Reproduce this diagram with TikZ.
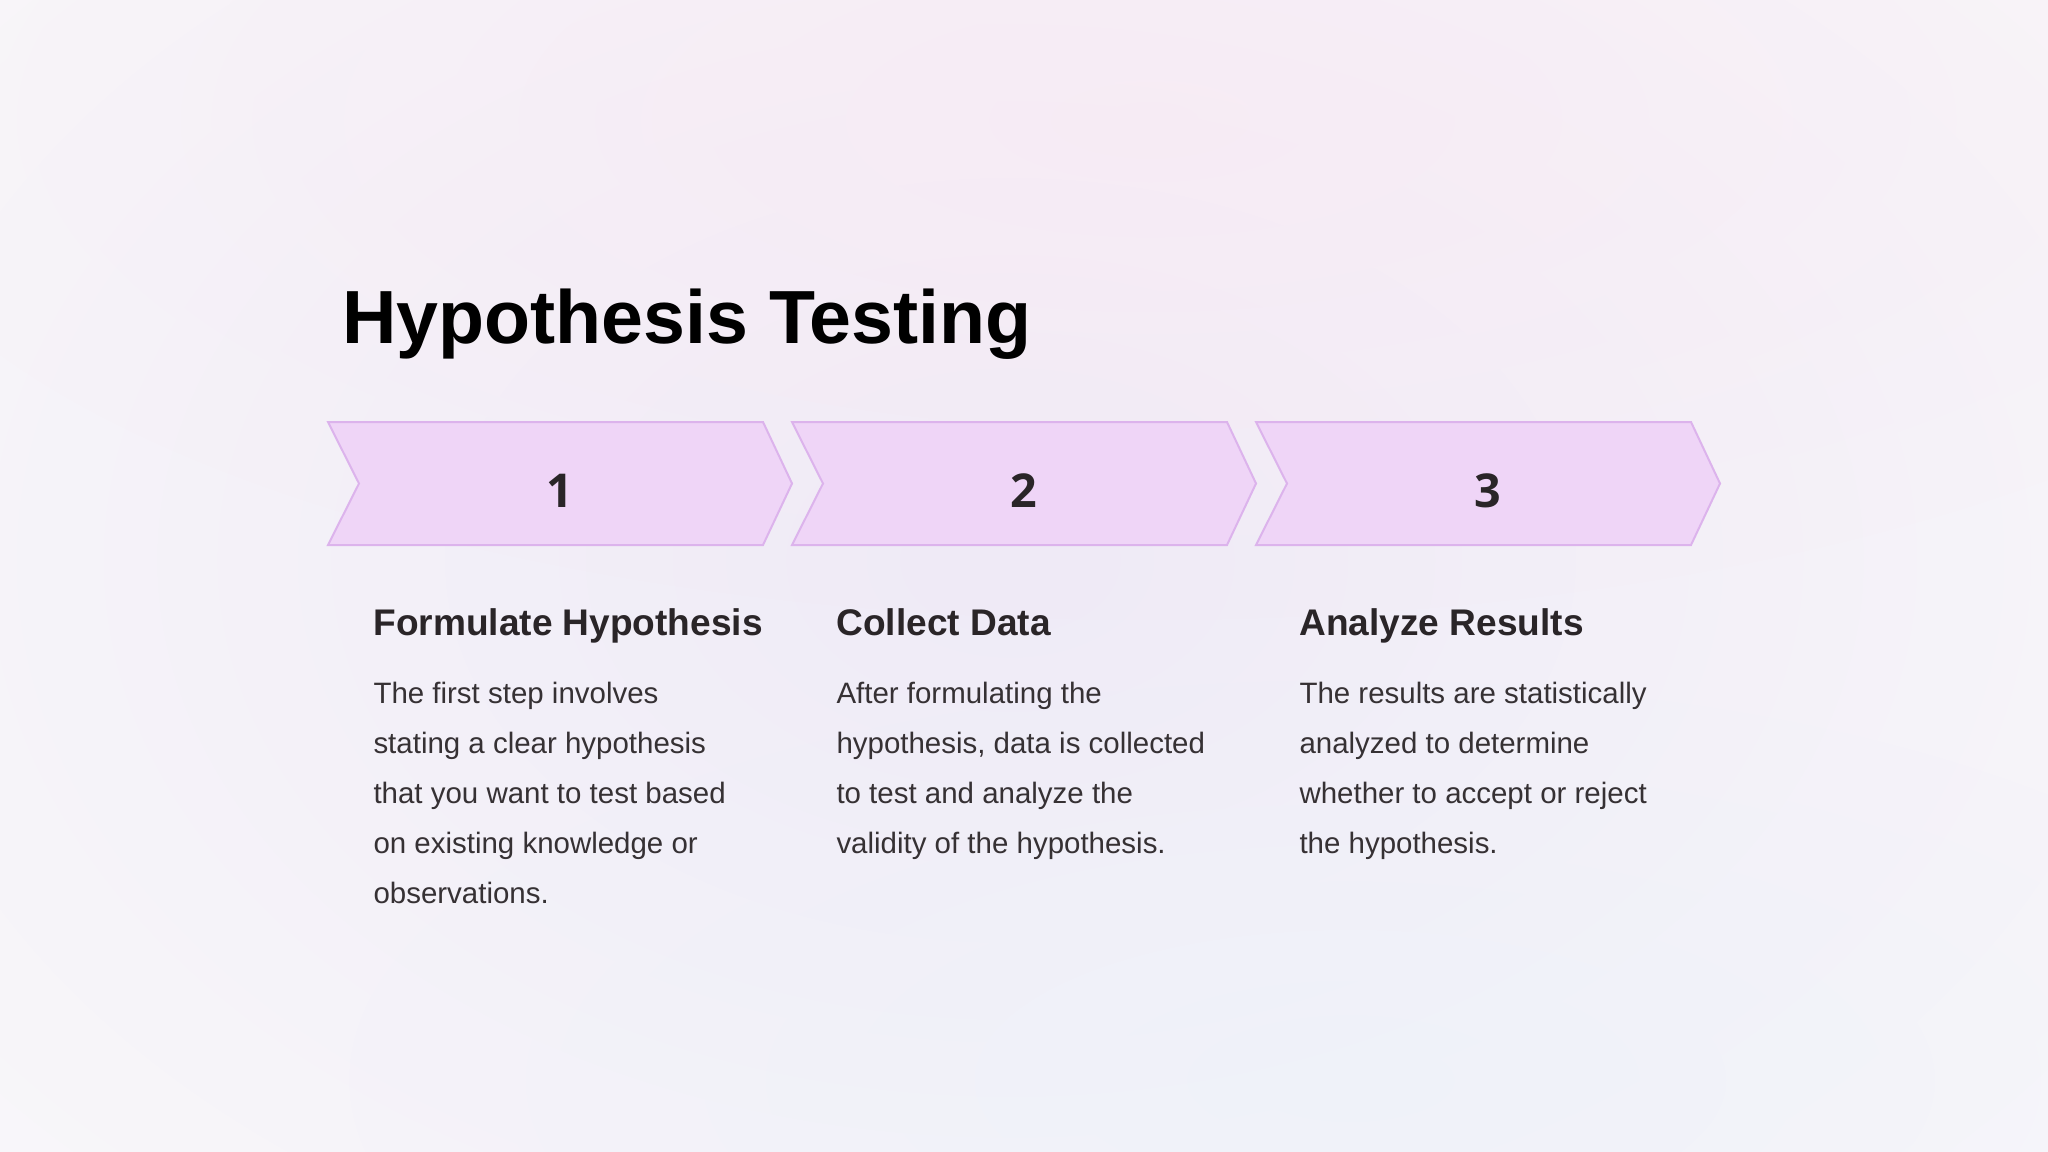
\documentclass[tikz,border=0pt]{standalone}
\usepackage{fontspec}
\setmainfont{Liberation Sans}
\newfontfamily\numfont{Open Sans}
\usetikzlibrary{positioning,fadings}

\definecolor{bgwhite}{HTML}{FBFAFB}
\definecolor{glowlav}{HTML}{EFEBF7}
\definecolor{glowpink}{HTML}{F9E9F3}
\definecolor{glowblue}{HTML}{EEF2FA}
\definecolor{chevfill}{HTML}{EFD5F7}
\definecolor{chevline}{HTML}{DCB3EC}
\definecolor{headtext}{HTML}{2A2528}
\definecolor{bodytext}{HTML}{363134}

\tikzfading[name=softglow, inner color=transparent!0, outer color=transparent!100]

\tikzset{every picture/.style={line width=0.75pt}}
\tikzset{
  chevron/.style={fill=chevfill, draw=chevline, line width=1.5pt, line join=miter},
  stepnum/.style={anchor=base, inner sep=0pt, text=headtext, font=\numfont\bfseries\fontsize{35}{42}\selectfont},
  steptitle/.style={anchor=base west, inner sep=0pt, text=headtext, font=\bfseries\fontsize{27.8}{33}\selectfont},
  stepbody/.style={anchor=base west, inner sep=0pt, align=left, text=bodytext, font=\fontsize{22.1}{37.5}\selectfont}
}

\begin{document}
\begin{tikzpicture}[x=0.75pt,y=0.75pt,yscale=-1,xscale=1]

\useasboundingbox (0,0) rectangle (2048,1152);

% background
\fill[bgwhite] (0,0) rectangle (2048,1152);
\fill[glowlav, path fading=softglow] (1010,560) ellipse (1700 and 1150);
\fill[glowpink, path fading=softglow, opacity=0.65] (1150,120) ellipse (1300 and 500);
\fill[glowblue, path fading=softglow, opacity=0.8] (1350,1080) ellipse (1000 and 400);

% title
\draw (342,343) node [anchor=base west][inner sep=0pt] (title) {\bfseries\fontsize{56.5}{64}\selectfont Hypothesis Testing};

% chevrons
\draw [chevron] (328,422) -- (763,422) -- (792,483.5) -- (763,545) -- (328,545) -- (359,483.5) -- cycle ;
\draw [chevron] (792,422) -- (1227,422) -- (1256,483.5) -- (1227,545) -- (792,545) -- (823,483.5) -- cycle ;
\draw [chevron] (1256,422) -- (1691,422) -- (1720,483.5) -- (1691,545) -- (1256,545) -- (1287,483.5) -- cycle ;

\draw (560,507) node [stepnum] (num1) {1};
\draw (1024,507) node [stepnum] (num2) {2};
\draw (1488,507) node [stepnum] (num3) {3};

% step texts (base = last line)
\draw (373,635) node [steptitle] (head1) {Formulate Hypothesis};
\draw (836,635) node [steptitle] (head2) {Collect Data};
\draw (1299,635) node [steptitle] (head3) {Analyze Results};

\draw (373,903) node [stepbody] (body1) {The first step involves\\stating a clear hypothesis\\that you want to test based\\on existing knowledge or\\observations.};
\draw (836,853) node [stepbody] (body2) {After formulating the\\hypothesis, data is collected\\to test and analyze the\\validity of the hypothesis.};
\draw (1299,853) node [stepbody] (body3) {The results are statistically\\analyzed to determine\\whether to accept or reject\\the hypothesis.};

\end{tikzpicture}
\end{document}
